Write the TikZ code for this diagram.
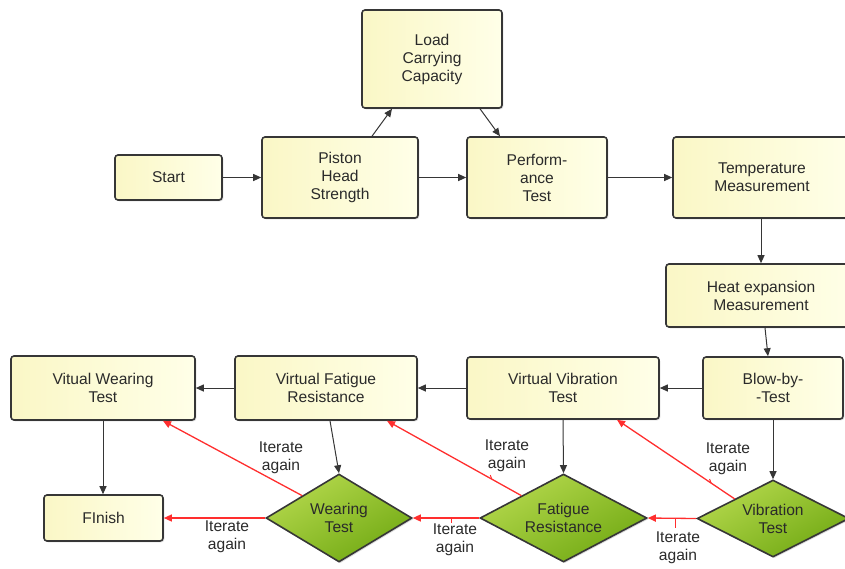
\documentclass[tikz,border=0pt]{standalone}
\usepackage{fontspec}
\setmainfont{Liberation Sans}
\usetikzlibrary{shapes.geometric,arrows.meta,shadows,calc}
\definecolor{boxA}{HTML}{FAF7C6}
\definecolor{boxB}{HTML}{FFFFE8}
\definecolor{dA}{HTML}{B4D84C}
\definecolor{dB}{HTML}{72AA14}
\definecolor{edge}{HTML}{363636}
\definecolor{txt}{HTML}{2A2A2A}
\definecolor{iter}{HTML}{FF2E2E}
\begin{document}
\begin{tikzpicture}[x=1pt,y=-1pt,
  every node/.style={font=\fontsize{15.6}{18}\selectfont, text=txt},
  box/.style={draw=edge, line width=1.6pt, rounded corners=3pt, align=center, inner sep=0pt,
    left color=boxA, right color=boxB,
    drop shadow={shadow xshift=1.3pt, shadow yshift=-1.3pt, opacity=0.3}},
  dia/.style={diamond, draw=edge, line width=1.6pt, align=center, inner sep=0pt, shape aspect=1.9,
    top color=dA, bottom color=dB, shading angle=30,
    drop shadow={shadow xshift=1.3pt, shadow yshift=-1.3pt, opacity=0.3}},
  flow/.style={draw=edge, line width=1pt, -{Triangle[length=8pt,width=7pt]}},
  again/.style={draw=iter, line width=1.3pt, -{Triangle[length=8pt,width=7pt]}},
  tick/.style={draw=iter, line width=1pt},
  lbl/.style={align=center, inner sep=0pt}
]
\useasboundingbox (0,0) rectangle (845,568);

% boxes
\node[box, minimum width=140pt, minimum height=98pt] (load) at (432,59) {Load\\Carrying\\Capacity};
\node[box, minimum width=107pt, minimum height=45pt] (start) at (168.5,177.5) {Start};
\node[box, minimum width=156pt, minimum height=81pt] (piston) at (340,177.5) {Piston\\Head\\Strength};
\node[box, minimum width=140pt, minimum height=81pt] (perf) at (537,177.5) {Perform-\\ance\\Test};
\node[box, minimum width=178pt, minimum height=81pt] (temp) at (762,177.5) {Temperature\\Measurement};
\node[box, minimum width=190pt, minimum height=63pt] (heat) at (761,295.5) {Heat expansion\\Measurement};
\node[box, minimum width=140pt, minimum height=62pt] (blow) at (773,388) {Blow-by-\\-Test};
\node[box, minimum width=192pt, minimum height=62pt] (vv) at (563,388) {Virtual Vibration\\Test};
\node[box, minimum width=182pt, minimum height=64pt] (vf) at (326,388) {Virtual Fatigue\\Resistance};
\node[box, minimum width=184pt, minimum height=64pt] (vw) at (103,388) {Vitual Wearing\\Test};
\node[box, minimum width=119pt, minimum height=46pt] (finish) at (103.5,518) {FInish};

% decisions
\node[dia, minimum width=146pt, minimum height=88pt] (wear) at (339,518) {Wearing\\Test};
\node[dia, minimum width=167pt, minimum height=88pt] (fat) at (563.5,518) {Fatigue\\Resistance};
\node[dia, minimum width=152pt, minimum height=77pt] (vib) at (773,518.5) {Vibration\\Test};

% main flow
\draw[flow] (start) -- (piston);
\draw[flow] ([xshift=32pt]piston.north) -- ([xshift=-40pt]load.south);
\draw[flow] ([xshift=48pt]load.south) -- ([xshift=-37pt]perf.north);
\draw[flow] (piston) -- (perf);
\draw[flow] (perf) -- (temp);
\draw[flow] ([xshift=-1pt]temp.south) -- ([xshift=-1pt]temp.south |- heat.north);
\draw[flow] ([xshift=4pt]heat.south) -- ([xshift=-5pt]blow.north);
\draw[flow] (blow) -- (vv);
\draw[flow] (vv) -- (vf);
\draw[flow] (vf) -- (vw);
\draw[flow] (vw.south) -- (vw.south |- finish.north);
\draw[flow] ([xshift=4pt]vf.south) -- (wear.north);
\draw[flow] (vv.south) -- (fat.north);
\draw[flow] (blow.south) -- (vib.north);

% iterate loops
\draw[again] (vib.west) -- coordinate[pos=0.42] (t1) (fat.east);
\draw[again] (fat.west) -- coordinate[pos=0.42] (t2) (wear.east);
\draw[again] (wear.west) -- (finish.east);
\draw[again] (vib.north west) -- coordinate[pos=0.2] (t3) ([xshift=54pt]vv.south);
\draw[again] (fat.north west) -- coordinate[pos=0.22] (t4) ([xshift=61pt]vf.south);
\draw[again] (wear.north west) -- ([xshift=60pt]vw.south);
\draw[tick] (t1) -- ++(0,10);
\draw[tick] (t2) -- ++(0,5);
\draw[tick] (t3) -- ++(-1.5,-4);
\draw[tick] (t4) -- ++(-1.5,-4);

% labels
\node[lbl] (l1) at (678,548) {Iterate\\again};
\node[lbl] (l2) at (455,540) {Iterate\\again};
\node[lbl] (l3) at (227,537) {Iterate\\again};
\node[lbl] (l4) at (728,459) {Iterate\\again};
\node[lbl] (l5) at (507,456) {Iterate\\again};
\node[lbl] (l6) at (281,458) {Iterate\\again};
\end{tikzpicture}
\end{document}
